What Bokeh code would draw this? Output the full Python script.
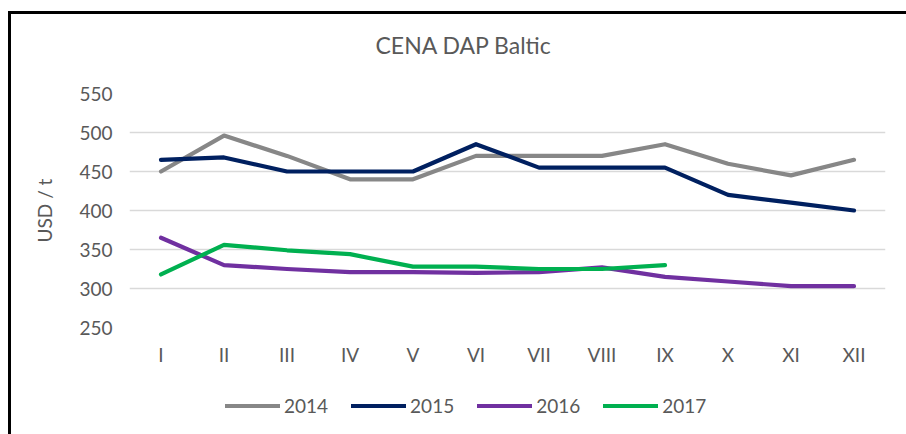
from bokeh.plotting import figure
from bokeh.layouts import column
from bokeh.models import Legend, LegendItem, FixedTicker, ColumnDataSource, Title
from bokeh.embed import file_html
from bokeh.resources import INLINE

months = ["I", "II", "III", "IV", "V", "VI", "VII", "VIII", "IX", "X", "XI", "XII"]
years = ["2014", "2015", "2016", "2017"]
v2014 = [450, 496, 470, 440, 440, 470, 470, 470, 485, 460, 445, 465]
v2015 = [465, 468, 450, 450, 450, 485, 455, 455, 455, 420, 410, 400]
v2016 = [365, 330, 325, 321, 321, 320, 321, 327, 315, 309, 303, 303]
v2017 = [318, 356, 349, 344, 328, 328, 325, 325, 330]
y_ticks = [250, 300, 350, 400, 450, 500, 550]

title_text = "CENA DAP Baltic"
y_label = "USD / t"

colors = ["#878787", "#002060", "#7030A0", "#00B050"]
FONT = "Lato"
TXT = "#595959"

p = figure(x_range=months, y_range=(250, 550),
           frame_width=756, frame_height=234,
           output_backend="svg", toolbar_location=None,
           min_border_left=118, min_border_right=21, min_border_top=79,
           min_border_bottom=48)
p.outline_line_color = None
p.background_fill_color = "white"
p.border_fill_color = "white"

p.title.text = ""
p.title.visible = False
p.title.standoff = 0

spacer = Title(text=" ", standoff=3, text_font=FONT, text_font_size="23px")
p.add_layout(spacer, "above")
main_title = Title(text=title_text, align="left", offset=246, standoff=4,
                   text_font=FONT, text_font_size="23px",
                   text_font_style="normal", text_color=TXT)
p.add_layout(main_title, "above")

p.xgrid.grid_line_color = None
p.ygrid.grid_line_color = "#d9d9d9"
p.ygrid.grid_line_width = 1.3
p.yaxis.ticker = FixedTicker(ticks=y_ticks)

for ax in (p.xaxis[0], p.yaxis[0]):
    ax.axis_line_color = None
    ax.major_tick_line_color = None
    ax.minor_tick_line_color = None
    ax.major_label_text_font = FONT
    ax.major_label_text_font_size = "19px"
    ax.major_label_text_color = TXT
    ax.axis_label_text_font = FONT
    ax.axis_label_text_font_size = "19px"
    ax.axis_label_text_color = TXT
    ax.axis_label_text_font_style = "normal"

p.yaxis.major_label_standoff = 11
p.yaxis.axis_label = y_label
p.yaxis.axis_label_standoff = 20
p.xaxis.major_label_standoff = 9

series = [v2014, v2015, v2016, v2017]
for name, vals, col in zip(years, series, colors):
    src = ColumnDataSource(dict(x=months[:len(vals)], y=vals))
    p.line("x", "y", source=src, line_color=col, line_width=4.2,
           line_join="round", line_cap="round")

# legend strip below the chart (same colours / names as the series above);
# its lines carry the series values, which fall outside this strip's range
leg = figure(width=895, height=60, x_range=(0, 1), y_range=(0, 1),
             output_backend="svg", toolbar_location=None,
             x_axis_location=None, y_axis_location=None, min_border=0)
leg.outline_line_color = None
leg.grid.visible = False
leg.background_fill_color = "white"
leg.border_fill_color = "white"

items = []
for name, vals, col in zip(years, series, colors):
    r = leg.line(x=list(range(len(vals))), y=vals, line_color=col,
                 line_width=4.2, line_join="round", line_cap="round")
    items.append(LegendItem(label=name, renderers=[r]))

legend = Legend(items=items, orientation="horizontal", location="left",
                glyph_width=55, glyph_height=20, label_standoff=4, spacing=23,
                label_text_font=FONT, label_text_font_size="19px",
                label_text_color=TXT, border_line_color=None,
                background_fill_alpha=0, padding=10, margin=96)
leg.add_layout(legend, "center")

layout = column(p, leg, spacing=0)
layout.styles = {"border-left": "3px solid #000", "border-top": "3px solid #000",
                 "margin-left": "8px", "margin-top": "11px"}

open("out.html", "w").write(file_html(layout, INLINE))
